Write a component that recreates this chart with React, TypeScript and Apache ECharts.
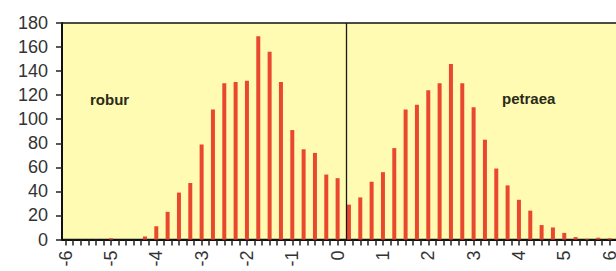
import React, { useEffect, useRef } from "react";
import * as echarts from "echarts";

// bin centres (x) and counts (y)
const roburX = [-5, -4.25, -4, -3.75, -3.5, -3.25, -3, -2.75, -2.5, -2.25, -2, -1.75, -1.5, -1.25, -1, -0.75, -0.5, -0.25, 0];
const roburY = [1, 2.5, 11, 23, 39, 47, 79, 108, 130, 131, 132, 169, 156, 131, 91, 75, 72, 54, 51];
const petraeaX = [0.25, 0.5, 0.75, 1, 1.25, 1.5, 1.75, 2, 2.25, 2.5, 2.75, 3, 3.25, 3.5, 3.75, 4, 4.25, 4.5, 4.75, 5, 5.25, 5.5, 5.75, 6];
const petraeaY = [29, 35, 48, 56, 76, 108, 112, 124, 130, 146, 130, 110, 83, 59, 45, 33, 24, 12, 10, 5.5, 2, 0.5, 1.5, 1];
const xTickLabels = [-6, -5, -4, -3, -2, -1, 0, 1, 2, 3, 4, 5, 6];
const yTicks = [0, 20, 40, 60, 80, 100, 120, 140, 160, 180];
const dividerX = 0.2;
const groupNames = ["robur", "petraea"];

const X_MIN = -6.08;
const X_MAX = 6.45;

export default function App() {
  const ref = useRef<HTMLDivElement>(null);
  useEffect(() => {
    if (!ref.current) return;
    const chart = echarts.init(ref.current, undefined, { renderer: "svg" });
    const minorTicks: number[] = [];
    for (let i = -36; i <= 38; i++) minorTicks.push(i / 6);
    const font = "'Liberation Sans', Arial, sans-serif";
    chart.setOption({
      animation: false,
      backgroundColor: "#ffffff",
      grid: {
        left: 62,
        right: 0,
        top: 23,
        bottom: 31.5,
        show: true,
        backgroundColor: "#FFFBB2",
        borderColor: "#111",
        borderWidth: 1.5,
      },
      xAxis: {
        type: "value",
        min: X_MIN,
        max: X_MAX,
        splitLine: { show: false },
        axisLine: { show: true, onZero: false, lineStyle: { color: "#111", width: 2 } },
        axisTick: {
          show: true,
          customValues: minorTicks,
          length: 6,
          lineStyle: { color: "#222", width: 1.5 },
        },
        axisLabel: {
          customValues: xTickLabels,
          rotate: 90,
          margin: 11,
          fontSize: 18,
          color: "#333",
          fontFamily: font,
          formatter: (v: number) => String(Math.round(v)),
        },
      },
      yAxis: {
        type: "value",
        min: 0,
        max: 180,
        interval: 20,
        splitLine: { show: false },
        axisLine: { show: true, onZero: false, lineStyle: { color: "#111", width: 2 } },
        axisTick: { show: true, length: 6, lineStyle: { color: "#222", width: 1.5 } },
        axisLabel: {
          margin: 14,
          fontSize: 18,
          color: "#333",
          fontFamily: font,
          customValues: yTicks,
        },
      },
      graphic: [
        {
          type: "text",
          left: 90,
          top: 92,
          style: { text: groupNames[0], fontSize: 15, fontWeight: "bold", fill: "#2a2a1a", fontFamily: font },
        },
        {
          type: "text",
          left: 502,
          top: 91,
          style: { text: groupNames[1], fontSize: 15, fontWeight: "bold", fill: "#2a2a1a", fontFamily: font },
        },
      ],
      series: [
        {
          name: groupNames[0],
          type: "bar",
          barWidth: 4,
          barGap: "-100%",
          itemStyle: { color: "#E9482F" },
          data: roburX.map((x, i) => [x, roburY[i]]),
          markLine: {
            silent: true,
            symbol: "none",
            label: { show: false },
            lineStyle: { color: "#1a1a1a", width: 1.3, type: "solid" },
            data: [{ xAxis: dividerX }],
          },
        },
        {
          name: groupNames[1],
          type: "bar",
          barWidth: 4,
          barGap: "-100%",
          itemStyle: { color: "#E9482F" },
          data: petraeaX.map((x, i) => [x, petraeaY[i]]),
        },
      ],
    });
    return () => chart.dispose();
  }, []);
  return (
    <div style={{ position: "absolute", left: 0, top: 0, width: 616, height: 271, overflow: "hidden", background: "#fff" }}>
      <div ref={ref} style={{ width: 630, height: 271 }} />
    </div>
  );
}
